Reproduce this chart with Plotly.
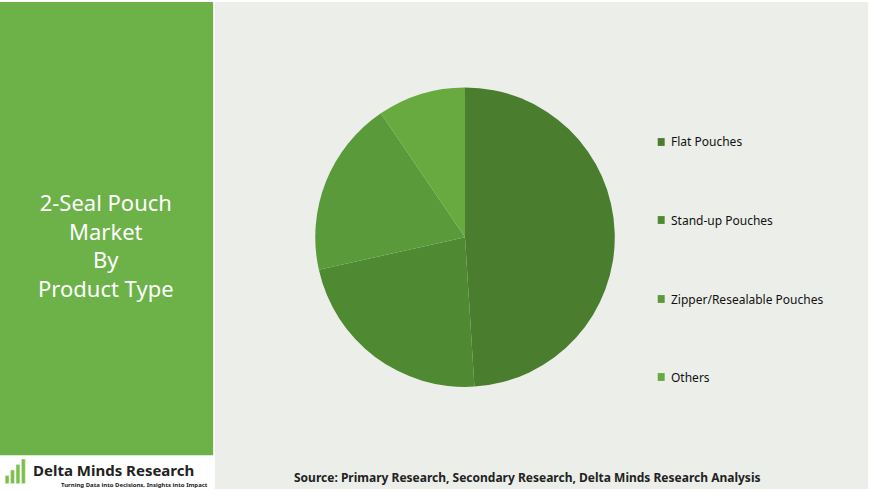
'''2-Seal Pouch Market by Product Type'''
import plotly.graph_objects as go

# data
labels = ["Flat Pouches", "Stand-up Pouches", "Zipper/Resealable Pouches", "Others"]
values = [49, 22.5, 19, 9.5]
colors = ["#4a7d2e", "#4f8a33", "#5b9a3b", "#68aa40"]
logo_bars = [3, 5, 7, 9]

FONT = "Noto Sans"

fig = go.Figure()
fig.add_trace(go.Pie(labels=labels, values=values, sort=False, direction="clockwise",
                     rotation=0, textinfo="none", hoverinfo="label+percent",
                     marker=dict(colors=colors),
                     domain=dict(x=[0.362, 0.707], y=[0.212, 0.822])))

# logo icon as small bars
fig.add_trace(go.Bar(x=[0, 1, 2, 3], y=logo_bars, marker_color="#7cc142", width=0.7,
                     xaxis="x", yaxis="y", showlegend=False, hoverinfo="skip"))

shapes = [
    dict(type="rect", xref="paper", yref="paper", x0=0, x1=0.245, y0=0.073, y1=0.996,
         fillcolor="#6db249", line_width=0, layer="below"),
    dict(type="rect", xref="paper", yref="paper", x0=0.247, x1=0.998, y0=0.004, y1=0.996,
         fillcolor="#eceeea", line_width=0, layer="below"),
]
legend_y = [1 - 142 / 491, 1 - 220 / 491, 1 - 299 / 491, 1 - 377 / 491]
annotations = [
    dict(text="2-Seal Pouch<br>Market<br>By<br>Product Type", x=0.122, y=0.501,
         xref="paper", yref="paper", showarrow=False, xanchor="center", yanchor="middle",
         font=dict(family=FONT, size=22, color="white"), align="center"),
    dict(text="<b>Delta Minds Research</b>", x=0.036, y=0.042, xref="paper", yref="paper",
         xanchor="left", yanchor="middle", showarrow=False,
         font=dict(family=FONT, size=15, color="#222")),
    dict(text="<b>Turning Data into Decisions, Insights into Impact</b>", x=0.068, y=0.013,
         xref="paper", yref="paper", xanchor="left", yanchor="middle", showarrow=False,
         font=dict(family=FONT, size=6, color="#222")),
    dict(text="<b>Source: Primary Research, Secondary Research, Delta Minds Research Analysis</b>",
         x=0.606, y=0.027, xref="paper", yref="paper", showarrow=False, yanchor="middle",
         font=dict(family=FONT, size=12, color="#222")),
]
for lab, col, ly in zip(labels, colors, legend_y):
    shapes.append(dict(type="rect", xref="paper", yref="paper", x0=0.756, x1=0.764,
                       y0=ly - 0.008, y1=ly + 0.008, fillcolor=col, line_width=0))
    annotations.append(dict(text=lab, x=0.769, y=ly, xref="paper", yref="paper",
                            xanchor="left", yanchor="middle", showarrow=False,
                            font=dict(family=FONT, size=12, color="#111")))

fig.update_layout(
    width=870, height=491, margin=dict(l=0, r=0, t=0, b=0),
    paper_bgcolor="white", plot_bgcolor="rgba(0,0,0,0)", showlegend=False,
    shapes=shapes, annotations=annotations, font=dict(family=FONT),
    xaxis=dict(domain=[0.005, 0.03], visible=False, range=[-0.5, 3.5]),
    yaxis=dict(domain=[0.015, 0.065], visible=False, range=[0, 9]),
    bargap=0.2,
)
fig.write_html("out.html", config={"displayModeBar": False},
               post_script="document.body.style.margin='0';")
